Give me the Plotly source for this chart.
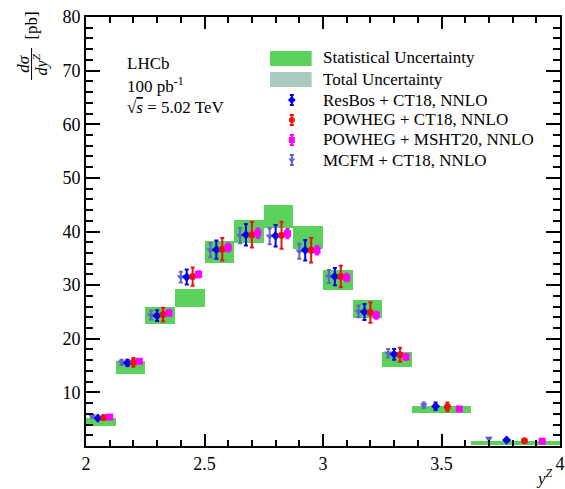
import plotly.graph_objects as go

# ---------------- data ----------------
bin_edges = [2.0, 2.125, 2.25, 2.375, 2.5, 2.625, 2.75, 2.875, 3.0, 3.125, 3.25, 3.375, 3.625, 4.0]
data_val = [4.5, 14.6, 24.3, 27.6, 36.2, 40.0, 42.8, 38.9, 30.9, 25.5, 16.1, 6.8, 0.6]
stat_err = [0.75, 1.2, 1.6, 1.7, 2.05, 2.1, 2.1, 2.1, 1.9, 1.7, 1.4, 0.65, 0.4]

mcfm_ct18 = [5.6, 15.6, 24.4, 31.5, 36.5, 39.2, 39.1, 36.3, 31.6, 25.1, 17.3, 7.6, 1.4]
mcfm_err = [0.3, 0.5, 0.8, 1.0, 1.3, 1.4, 1.5, 1.4, 1.2, 1.1, 0.8, 0.5, 0.15]
resbos_ct18 = [5.2, 15.5, 24.3, 31.5, 36.6, 39.4, 39.2, 36.5, 31.6, 25.0, 17.1, 7.4, 1.1]
resbos_err = [0.35, 0.6, 1.0, 1.4, 1.7, 2.0, 2.0, 1.9, 1.6, 1.5, 1.0, 0.7, 0.2]
powheg_ct18 = [5.3, 15.6, 24.5, 31.6, 36.7, 39.4, 39.3, 36.5, 31.6, 24.9, 17.0, 7.3, 1.0]
powheg_ct18_err = [0.4, 0.8, 1.3, 1.7, 2.1, 2.4, 2.5, 2.3, 2.0, 1.9, 1.3, 0.8, 0.2]
powheg_msht20 = [5.4, 15.8, 24.8, 32.0, 37.0, 39.7, 39.6, 36.5, 31.4, 24.4, 16.6, 6.9, 0.9]
powheg_msht20_err = [0.15, 0.3, 0.45, 0.6, 0.75, 0.85, 0.85, 0.8, 0.7, 0.65, 0.45, 0.3, 0.1]

x_ticks = [2, 2.5, 3, 3.5, 4]
x_ticklabels = ["2", "2.5", "3", "3.5", "4"]
y_ticks = [10, 20, 30, 40, 50, 60, 70, 80]

# ---------------- layout geometry ----------------
W, H = 565, 489
ML, MR, MT, MB = 86, 0, 17, 43
PW, PH = W - ML - MR, H - MT - MB
SERIF = "Liberation Serif, Times New Roman, serif"
GREEN = "#5ad15a"
TOTAL = "#a9cabd"


def px(x):
    return (x - ML) / PW


def py(y):
    return (H - MB - y) / PH


lo = bin_edges[:-1]
hi = bin_edges[1:]
widths = [b - a for a, b in zip(lo, hi)]
centers = [(a + b) / 2 for a, b in zip(lo, hi)]

fig = go.Figure()

# statistical uncertainty boxes
fig.add_trace(go.Bar(
    x=centers, y=[2 * e for e in stat_err], base=[v - e for v, e in zip(data_val, stat_err)],
    width=widths, marker=dict(color=GREEN, line=dict(width=0)), showlegend=False,
    hoverinfo="skip"))

series = [
    ("MCFM + CT18, NNLO", mcfm_ct18, mcfm_err, 0.2, "#6060d0", "triangle-down", 7),
    ("ResBos + CT18, NNLO", resbos_ct18, resbos_err, 0.4, "#0000ee", "diamond", 7),
    ("POWHEG + CT18, NNLO", powheg_ct18, powheg_ct18_err, 0.6, "#ee1111", "circle", 7),
    ("POWHEG + MSHT20, NNLO", powheg_msht20, powheg_msht20_err, 0.8, "#ff00ff", "square", 7),
]
for name, vals, errs, frac, col, sym, size in series:
    xs = [a + frac * w for a, w in zip(lo, widths)]
    fig.add_trace(go.Scatter(
        x=xs, y=vals, mode="markers", name=name,
        marker=dict(color=col, symbol=sym, size=size, line=dict(width=0)),
        error_y=dict(type="data", array=errs, visible=True, color=col, thickness=2, width=2),
        showlegend=False))

# ---------------- manual legend ----------------
shapes = []
annotations = []
leg_rows = [58, 79, 100, 120, 140, 160]
sw_x0, sw_x1 = 272, 314
txt_x = 323
shapes.append(dict(type="rect", xref="paper", yref="paper", x0=px(sw_x0), x1=px(sw_x1),
                   y0=py(66), y1=py(51), fillcolor=GREEN, line=dict(width=0)))
shapes.append(dict(type="rect", xref="paper", yref="paper", x0=px(sw_x0), x1=px(sw_x1),
                   y0=py(87), y1=py(72), fillcolor=TOTAL, line=dict(width=0)))
leg_series = [series[1], series[2], series[3], series[0]]
labels = ["Statistical Uncertainty", "Total Uncertainty"] + [s[0] for s in leg_series]
for lab, yy in zip(labels, leg_rows):
    annotations.append(dict(text=lab, xref="paper", yref="paper", x=px(txt_x), y=py(yy),
                            xanchor="left", yanchor="middle", showarrow=False,
                            font=dict(family=SERIF, size=17, color="black")))

# legend symbols on an overlay axis spanning the plot area in pixel units
for (name, vals, errs, frac, col, sym, size), yy in zip(leg_series, leg_rows[2:]):
    fig.add_trace(go.Scatter(
        x=[294], y=[yy], xaxis="x2", yaxis="y2", mode="markers",
        marker=dict(color=col, symbol=sym, size=size - 1, line=dict(width=0)),
        error_y=dict(type="constant", value=5, visible=True, color=col, thickness=2, width=2),
        showlegend=False, hoverinfo="skip"))

# experiment text
for t, yy in [("LHCb", 63), ("100 pb<sup>-1</sup>", 85),
              ("√<span style='text-decoration:overline'><i>s</i></span> = 5.02 TeV", 107)]:
    annotations.append(dict(text=t, xref="paper", yref="paper", x=px(125), y=py(yy),
                            xanchor="left", yanchor="middle", showarrow=False,
                            font=dict(family=SERIF, size=17, color="black")))

# y-axis title (fraction, rotated)
annotations.append(dict(text="[pb]", xref="paper", yref="paper", x=px(31), y=py(26),
                        textangle=-90, showarrow=False, xanchor="center", yanchor="middle",
                        font=dict(family=SERIF, size=17, color="black")))
annotations.append(dict(text="<i>dσ</i>", xref="paper", yref="paper", x=px(23), y=py(64),
                        textangle=-90, showarrow=False, xanchor="center", yanchor="middle",
                        font=dict(family=SERIF, size=17, color="black")))
annotations.append(dict(text="<i>dy<sup>Z</sup></i>", xref="paper", yref="paper", x=px(41), y=py(64),
                        textangle=-90, showarrow=False, xanchor="center", yanchor="middle",
                        font=dict(family=SERIF, size=16, color="black")))
shapes.append(dict(type="line", xref="paper", yref="paper", x0=px(31), x1=px(31),
                   y0=py(48), y1=py(80), line=dict(color="black", width=1)))

# x-axis title
annotations.append(dict(text="<i>y<sup>Z</sup></i>", xref="paper", yref="paper", x=px(560), y=py(477),
                        showarrow=False, xanchor="right", yanchor="middle",
                        font=dict(family=SERIF, size=17, color="black")))

fig.update_layout(
    width=W, height=H, margin=dict(l=ML, r=MR, t=MT, b=MB),
    paper_bgcolor="white", plot_bgcolor="white", bargap=0,
    shapes=shapes, annotations=annotations,
    xaxis=dict(range=[2, 4], tickvals=x_ticks, ticktext=x_ticklabels, ticks="inside", ticklen=12,
               tickwidth=2, tickcolor="black", showline=True, linewidth=2, linecolor="black",
               mirror="ticks", showgrid=False, zeroline=False, ticklabeloverflow="allow",
               tickfont=dict(family=SERIF, size=18, color="black"),
               minor=dict(dtick=0.1, tick0=2, ticks="inside", ticklen=6, tickwidth=2, tickcolor="black",
                          showgrid=False)),
    yaxis=dict(range=[0, 80], tickvals=y_ticks, ticks="inside", ticklen=14, tickwidth=2,
               tickcolor="black", showline=True, linewidth=2, linecolor="black", mirror="ticks",
               showgrid=False, zeroline=False,
               tickfont=dict(family=SERIF, size=18, color="black"),
               minor=dict(dtick=2, tick0=0, ticks="inside", ticklen=7, tickwidth=2, tickcolor="black",
                          showgrid=False)),
    xaxis2=dict(range=[ML, W - MR], overlaying="x", visible=False, showgrid=False, zeroline=False),
    yaxis2=dict(range=[H - MB, MT], overlaying="y", visible=False, showgrid=False, zeroline=False),
)

fig.write_html("out.html")
